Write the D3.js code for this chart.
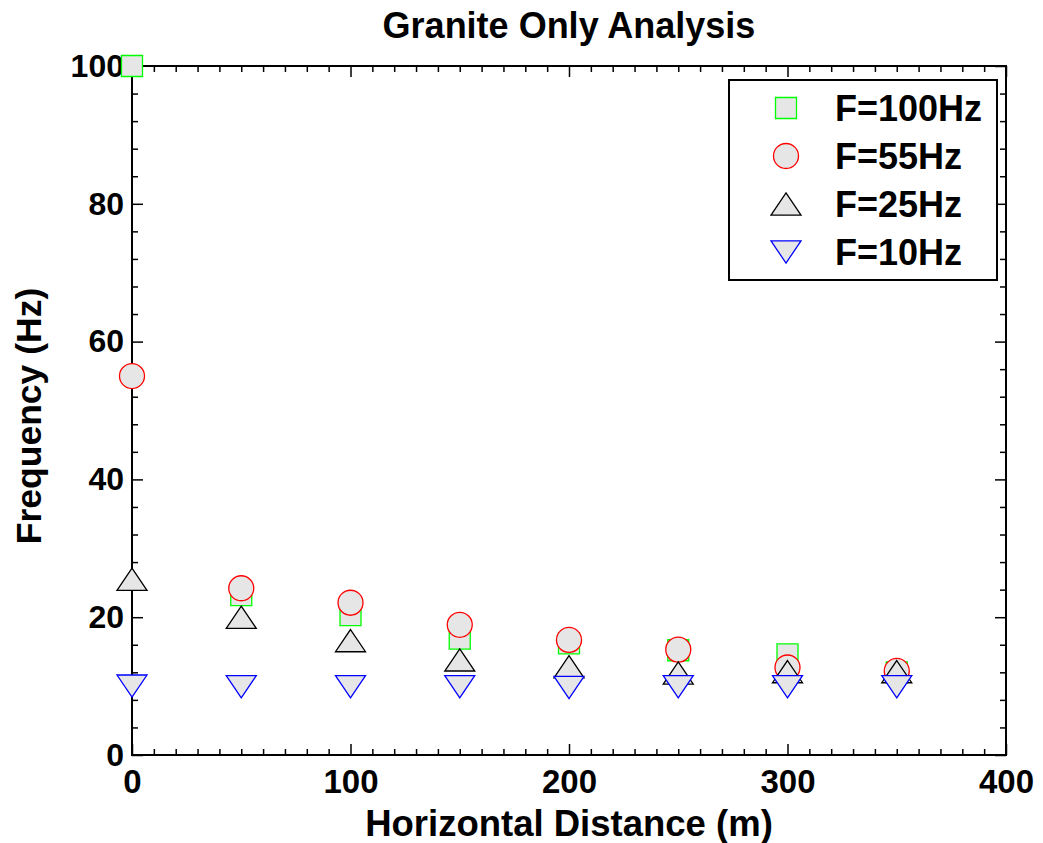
<!DOCTYPE html>
<html>
<head>
<meta charset="utf-8">
<script src="https://cdn.jsdelivr.net/npm/d3@7"></script>
<style>
  body { margin: 0; background: #fff; }
  text { font-family: Arial, "Liberation Sans", sans-serif; font-weight: bold; fill: #000; }
</style>
</head>
<body>
<div id="chart"></div>
<script>
// data
var distances = [0, 50, 100, 150, 200, 250, 300, 350];
var f100 = [100, 23.2, 20.3, 16.9, 16.2, 15.2, 14.6, 12.0];
var f55  = [55, 24.2, 22.1, 18.9, 16.7, 15.3, 12.7, 12.2];
var f25  = [25.5, 20.0, 16.6, 13.8, 12.8, 11.9, 12.1, 12.1];
var f10  = [10, 9.9, 9.9, 9.9, 9.8, 9.9, 9.9, 9.9];
var seriesNames = ["F=100Hz", "F=55Hz", "F=25Hz", "F=10Hz"];
var xTicks = [0, 100, 200, 300, 400];
var yTicks = [0, 20, 40, 60, 80, 100];

var W = 1043, H = 843;
var margin = {top: 66, right: 37, bottom: 88, left: 132};
var width = W - margin.left - margin.right,
    height = H - margin.top - margin.bottom;

var svg = d3.select("#chart").append("svg")
    .attr("width", W)
    .attr("height", H);

var g = svg.append("g")
    .attr("transform", "translate(" + margin.left + "," + margin.top + ")");

var x = d3.scaleLinear().domain([0, 400]).range([0, width]);
var y = d3.scaleLinear().domain([0, 100]).range([height, 0]);

var xMinor = d3.range(0, 401, 10).filter(function(d) { return d % 100 != 0; });
var yMinor = d3.range(0, 101, 4).filter(function(d) { return d % 20 != 0; });

// ticks pointing inward on all four sides
function tickAxis(axis, vals, len, tr) {
    var a = g.append("g").attr("class", "ticks")
        .attr("transform", tr || null)
        .call(axis.tickValues(vals).tickSize(-len).tickFormat(""));
    a.select(".domain").remove();
    a.selectAll("line").attr("stroke", "#000").attr("stroke-width", 1.5);
}
tickAxis(d3.axisBottom(x), xTicks, 11, "translate(0," + height + ")");
tickAxis(d3.axisBottom(x), xMinor, 6, "translate(0," + height + ")");
tickAxis(d3.axisTop(x), xTicks, 11);
tickAxis(d3.axisTop(x), xMinor, 6);
tickAxis(d3.axisLeft(y), yTicks, 11);
tickAxis(d3.axisLeft(y), yMinor, 6);
tickAxis(d3.axisRight(y), yTicks, 11, "translate(" + width + ",0)");
tickAxis(d3.axisRight(y), yMinor, 6, "translate(" + width + ",0)");

g.append("rect")
    .attr("width", width)
    .attr("height", height)
    .attr("fill", "none")
    .attr("stroke", "#000")
    .attr("stroke-width", 2);

// tick labels
var xl = g.append("g")
    .attr("transform", "translate(0," + height + ")")
    .call(d3.axisBottom(x).tickValues(xTicks).tickSize(0).tickPadding(15));
xl.select(".domain").remove();
xl.selectAll("text").style("font-size", "33px").style("font-family", null);

var yl = g.append("g")
    .call(d3.axisLeft(y).tickValues(yTicks).tickSize(0).tickPadding(8));
yl.select(".domain").remove();
yl.selectAll("text").style("font-size", "32px").style("font-family", null);

// titles
svg.append("text")
    .attr("x", margin.left + width / 2)
    .attr("y", 38)
    .attr("text-anchor", "middle")
    .style("font-size", "36px")
    .text("Granite Only Analysis");

svg.append("text")
    .attr("x", margin.left + width / 2)
    .attr("y", 836)
    .attr("text-anchor", "middle")
    .style("font-size", "36.5px")
    .text("Horizontal Distance (m)");

svg.append("text")
    .attr("transform", "translate(41," + 416 + ") rotate(-90)")
    .attr("text-anchor", "middle")
    .style("font-size", "35.5px")
    .text("Frequency (Hz)");

// marker shapes
var squareType = { draw: function(c, s) { c.rect(-s / 2, -s / 2, s, s); } };
var circleType = { draw: function(c, s) { c.moveTo(s / 2, 0); c.arc(0, 0, s / 2, 0, 2 * Math.PI); } };
function triType(dir) {
    return { draw: function(c, s) {
        var w = s / 2, h = s * 0.37;
        c.moveTo(0, -dir * h); c.lineTo(w, dir * h); c.lineTo(-w, dir * h); c.closePath();
    } };
}

var series = [
    {name: seriesNames[0], values: f100, type: squareType, size: 21, color: "#00ff00"},
    {name: seriesNames[1], values: f55, type: circleType, size: 25, color: "#ff0000"},
    {name: seriesNames[2], values: f25, type: triType(1), size: 30, color: "#000000"},
    {name: seriesNames[3], values: f10, type: triType(-1), size: 30, color: "#0000ff"}
];

series.forEach(function(s) {
    var sym = d3.symbol().type(s.type).size(s.size);
    g.selectAll(null)
        .data(distances.map(function(d, i) { return [d, s.values[i]]; }))
        .enter().append("path")
        .attr("d", sym)
        .attr("transform", function(d) { return "translate(" + x(d[0]) + "," + y(d[1]) + ")"; })
        .attr("fill", "#e6e6e6")
        .attr("stroke", s.color)
        .attr("stroke-width", 1.3);
});

// legend
var legend = svg.append("g").attr("transform", "translate(729,80)");
legend.append("rect")
    .attr("width", 268)
    .attr("height", 200)
    .attr("fill", "#fff")
    .attr("stroke", "#000")
    .attr("stroke-width", 2);

var rows = legend.selectAll(".row")
    .data(series)
    .enter().append("g")
    .attr("class", "row")
    .attr("transform", function(d, i) { return "translate(0," + (28 + i * 48) + ")"; });

rows.append("path")
    .attr("d", function(d) { return d3.symbol().type(d.type).size(d.size)(); })
    .attr("transform", "translate(57,0)")
    .attr("fill", "#e6e6e6")
    .attr("stroke", function(d) { return d.color; })
    .attr("stroke-width", 1.3);

rows.append("text")
    .attr("x", 106)
    .attr("dy", "0.36em")
    .style("font-size", "36px")
    .text(function(d) { return d.name; });
</script>
</body>
</html>
